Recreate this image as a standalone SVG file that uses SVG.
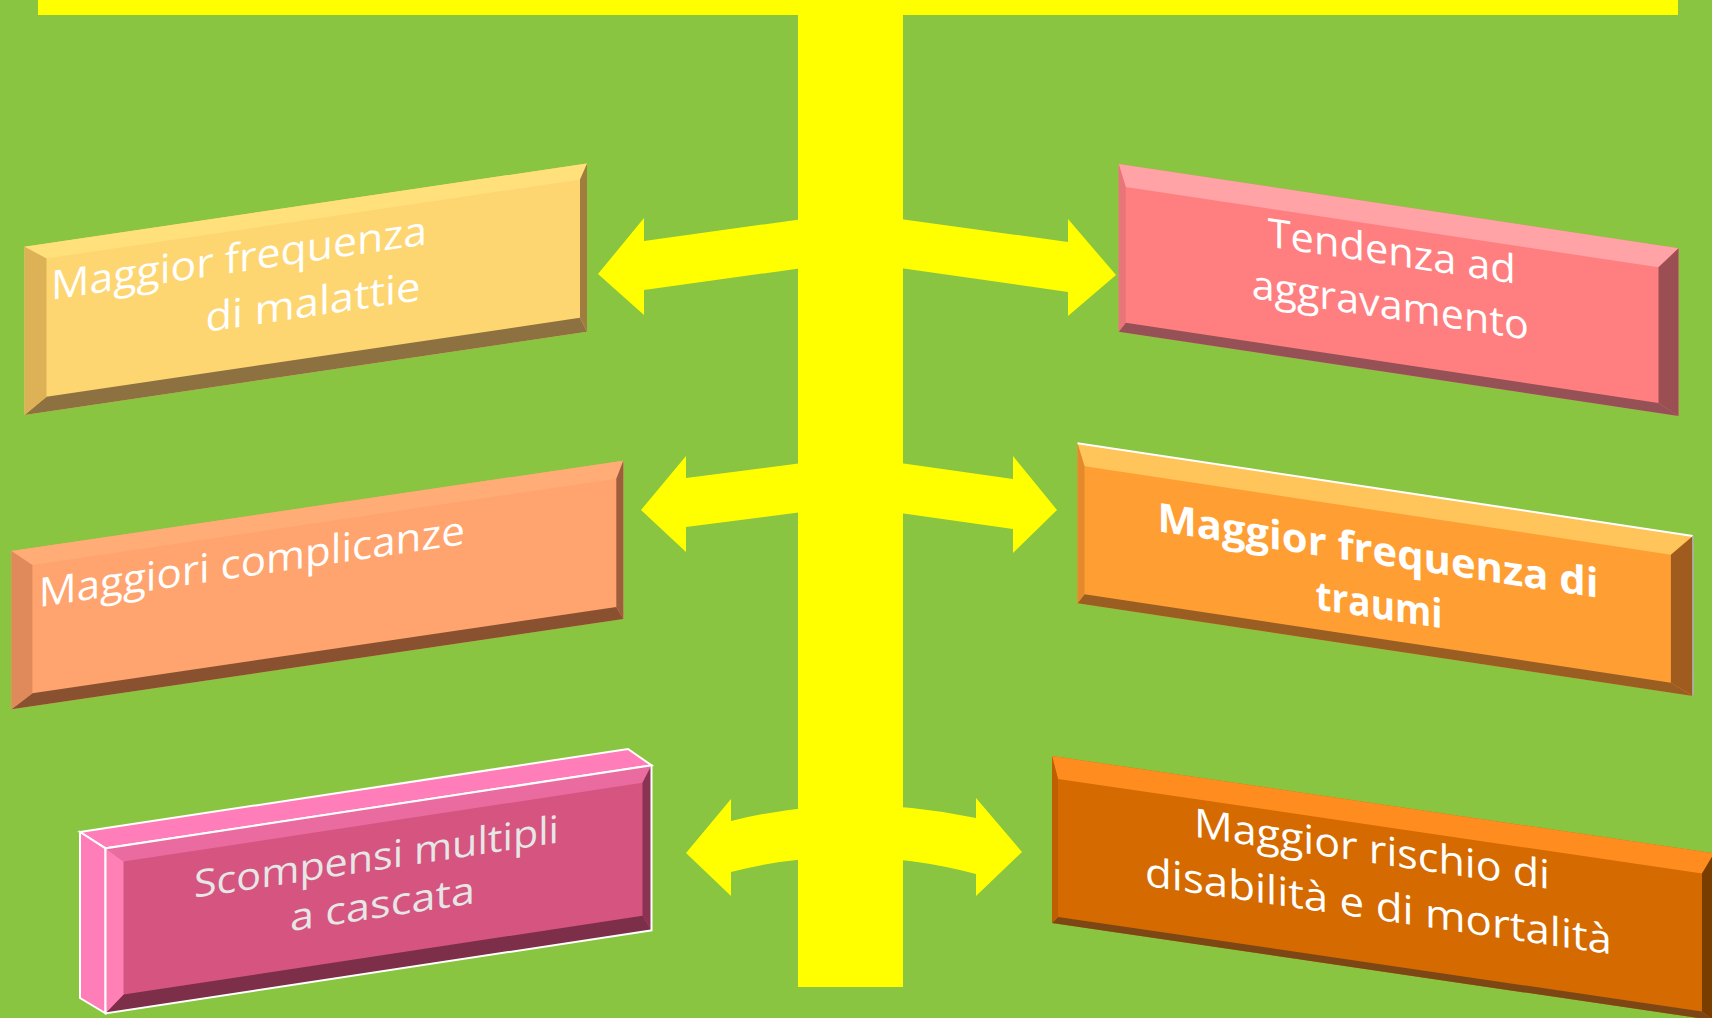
<svg xmlns="http://www.w3.org/2000/svg" width="1712" height="1018" viewBox="0 0 1712 1018">
<style>
.lbl{font-family:'Open Sans','Liberation Sans',sans-serif;font-size:40px;fill:#FFFFFF}
.bold{font-weight:bold}
.yel{fill:#FFFF00}
</style>
<rect width="1712" height="1018" fill="#89C540"/>
<rect class="yel" x="38" y="0" width="1640" height="15"/>
<rect class="yel" x="798" y="0" width="105" height="987"/>
<g id="connectors">
<polygon class="yel" points="810,218 644,241 644,218 598,274 644,315 644,290 810,267"/>
<polygon class="yel" points="893,218 1068,242 1068,219 1116,275 1068,316 1068,292 893,267"/>
<polygon class="yel" points="810,462 686,478 686,456 641,510 686,552 686,527 810,511"/>
<polygon class="yel" points="893,462 1013,479 1013,456 1057,510 1013,553 1013,529 893,512"/>
<path class="yel" d="M731 821 Q851 791 976 818 L976 798 L1022 852 L976 896 L976 874 Q851 841 731 872 L731 896 L686 853 L731 799 Z"/>
</g>
<g id="node1" transform="translate(24.5 246.7) skewY(-8.42)">
<rect x="0" y="0" width="562.5" height="168.3" fill="#FDD671"/>
<polygon points="0,0 562.5,0 555.5,15 22,15" fill="#FFE07A"/>
<polygon points="562.5,0 562.5,168.3 555.5,153.3 555.5,15" fill="#A07D3E"/>
<polygon points="0,168.3 562.5,168.3 555.5,153.3 22,153.3" fill="#8E7140"/>
<polygon points="0,0 0,168.3 22,153.3 22,15" fill="#DDB155"/>
<text class="lbl" x="26.5" y="57" textLength="376" lengthAdjust="spacingAndGlyphs">Maggior frequenza</text>
<text class="lbl" x="181" y="112" textLength="215" lengthAdjust="spacingAndGlyphs">di malattie</text>
</g>
<g id="node2" transform="translate(1118.7 164) skewY(8.565)">
<rect x="0" y="0" width="559.8" height="167.7" fill="#FF7F80"/>
<polygon points="0,0 559.8,0 539.8,22 7,22" fill="#FFA3A6"/>
<polygon points="559.8,0 559.8,167.7 539.8,157.7 539.8,22" fill="#9B4F52"/>
<polygon points="0,167.7 559.8,167.7 539.8,157.7 7,157.7" fill="#955155"/>
<polygon points="0,0 0,167.7 7,157.7 7,22" fill="#E87578"/>
<text class="lbl" x="149" y="60" textLength="248" lengthAdjust="spacingAndGlyphs">Tendenza ad</text>
<text class="lbl" x="133" y="114" textLength="277" lengthAdjust="spacingAndGlyphs">aggravamento</text>
</g>
<g id="node3" transform="translate(11.4 551) skewY(-8.4)">
<rect x="0" y="0" width="611.9" height="158.3" fill="#FFA46E"/>
<polygon points="0,0 611.9,0 604.9,17 21,17" fill="#FFAC76"/>
<polygon points="611.9,0 611.9,158.3 604.9,145.3 604.9,17" fill="#9E5E3D"/>
<polygon points="0,158.3 611.9,158.3 604.9,145.3 21,145.3" fill="#89512F"/>
<polygon points="0,0 0,158.3 21,145.3 21,17" fill="#E0895B"/>
<text class="lbl" x="27.4" y="60" textLength="426" lengthAdjust="spacingAndGlyphs">Maggiori complicanze</text>
</g>
<g id="node4" transform="translate(1077.5 443.3) skewY(8.565)">
<rect x="0" y="0" width="615.4" height="160" fill="#FF9E32"/>
<polygon points="0,0 615.4,0 593.4,22 7,22" fill="#FFC55A"/>
<polygon points="615.4,0 615.4,160 593.4,150 593.4,22" fill="#A05C1E"/>
<polygon points="0,160 615.4,160 593.4,150 7,150" fill="#9A5E22"/>
<polygon points="0,0 0,160 7,150 7,22" fill="#E48A2C"/>
<line x1="0" y1="0" x2="615.4" y2="0" stroke="#FFFFFF" stroke-width="2"/>
<line x1="615.4" y1="0" x2="615.4" y2="160" stroke="#B0B0B0" stroke-width="1.5"/>
<text class="lbl bold" x="80" y="76" textLength="441" lengthAdjust="spacingAndGlyphs">Maggior frequenza di</text>
<text class="lbl bold" x="238" y="130" textLength="127" lengthAdjust="spacingAndGlyphs">traumi</text>
</g>
<g id="node5">
<polygon points="80,832 628,749 651.5,765.3 105.5,848.3" fill="#FF7DB9" stroke="#FFFFFF" stroke-width="2"/>
<polygon points="80,832 105.5,848.3 105.5,1013.3 80,998" fill="#FF7DB9" stroke="#FFFFFF" stroke-width="2"/>
<g transform="translate(105.5 848.3) skewY(-8.64)">
<rect x="0" y="0" width="546" height="165" fill="#D55480"/>
<polygon points="0,0 546,0 537,16 18,16" fill="#EA6B9F"/>
<polygon points="546,0 546,165 537,149 537,16" fill="#8B3352"/>
<polygon points="0,165 546,165 537,149 18,149" fill="#7D2F4A"/>
<polygon points="0,0 0,165 18,149 18,16" fill="#FF80B5"/>
<rect x="0" y="0" width="546" height="165" fill="none" stroke="#FFFFFF" stroke-width="2"/>
<text class="lbl" x="271" y="63" text-anchor="middle" textLength="365" lengthAdjust="spacingAndGlyphs" style="fill:#E6E6E6;font-size:38px">Scompensi multipli</text>
<text class="lbl" x="277" y="111" text-anchor="middle" textLength="185" lengthAdjust="spacingAndGlyphs" style="fill:#E6E6E6;font-size:38px">a cascata</text>
</g>
</g>
<g id="node6" transform="translate(1052 756) skewY(8.36)">
<rect x="0" y="0" width="662" height="167" fill="#D56A00"/>
<polygon points="0,0 662,0 650,22 6,22" fill="#FF8C1E"/>
<polygon points="662,0 662,167 650,160 650,22" fill="#7A3D00"/>
<polygon points="0,167 662,167 650,160 6,160" fill="#7C4715"/>
<polygon points="0,0 0,167 6,160 6,22" fill="#C05F00"/>
<text class="lbl" x="142" y="60" textLength="356" lengthAdjust="spacingAndGlyphs">Maggior rischio di</text>
<text class="lbl" x="93" y="116" textLength="467" lengthAdjust="spacingAndGlyphs">disabilità e di mortalità</text>
</g>
</svg>
